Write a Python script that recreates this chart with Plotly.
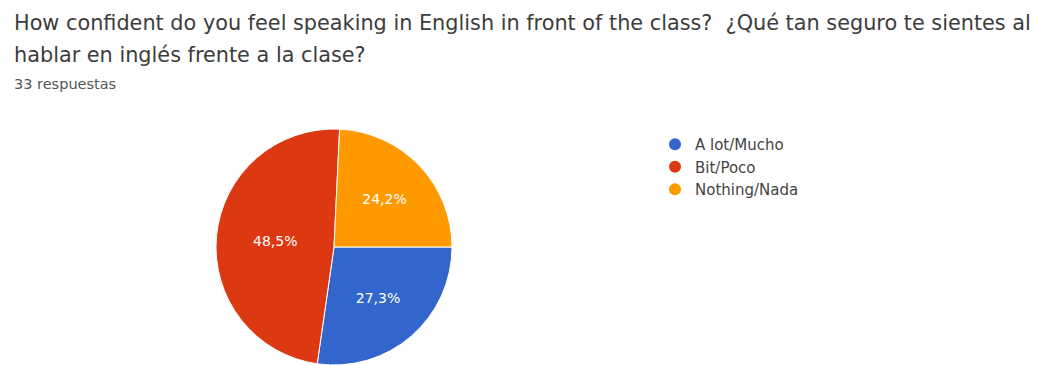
import plotly.graph_objects as go

# Survey answers (33 respuestas)
labels = ["A lot/Mucho", "Bit/Poco", "Nothing/Nada"]
counts = [9, 16, 8]
colors = ["#3366cc", "#dc3912", "#ff9900"]

title_line1 = "How confident do you feel speaking in English in front of the class?  ¿Qué tan seguro te sientes al"
title_line2 = "hablar en inglés frente a la clase?"
subtitle = "33 respuestas"

W, H = 1037, 365
FONT = "DejaVu Sans, Arial, sans-serif"

fig = go.Figure()

fig.add_trace(go.Pie(
    labels=labels,
    values=counts,
    sort=False,
    direction="clockwise",
    rotation=90,
    marker=dict(colors=colors, line=dict(color="white", width=1)),
    texttemplate="%{percent:.1%}",
    textposition="inside",
    insidetextorientation="horizontal",
    textfont=dict(color="white", size=14, family=FONT),
    domain=dict(x=[(334 - 118) / W, (334 + 118) / W], y=[0, 236 / H]),
    showlegend=False,
    hoverinfo="label+percent",
))

# legend entries drawn with round markers
for lab, col in zip(labels, colors):
    fig.add_trace(go.Scatter(
        x=[None], y=[None], mode="markers", name=lab,
        marker=dict(symbol="circle", size=12, color=col),
    ))

fig.update_layout(
    width=W, height=H,
    margin=dict(l=0, r=0, t=0, b=0),
    paper_bgcolor="white", plot_bgcolor="white",
    separators=",.",
    xaxis=dict(visible=False), yaxis=dict(visible=False),
    legend=dict(
        x=655 / W, y=1 - 128 / H, xanchor="left", yanchor="top",
        font=dict(family=FONT, size=15, color="#444444"),
        bgcolor="rgba(0,0,0,0)",
        tracegroupgap=0,
    ),
    annotations=[
        dict(text=title_line1, x=12 / W, y=1 - 23 / H, xref="paper", yref="paper",
             xanchor="left", yanchor="middle", showarrow=False,
             font=dict(family=FONT, size=20.8, color="#3c3c3c")),
        dict(text=title_line2, x=12 / W, y=1 - 55 / H, xref="paper", yref="paper",
             xanchor="left", yanchor="middle", showarrow=False,
             font=dict(family=FONT, size=20.8, color="#3c3c3c")),
        dict(text=subtitle, x=12 / W, y=1 - 84 / H, xref="paper", yref="paper",
             xanchor="left", yanchor="middle", showarrow=False,
             font=dict(family=FONT, size=14.5, color="#555555")),
    ],
)

fig.write_html("out.html")
